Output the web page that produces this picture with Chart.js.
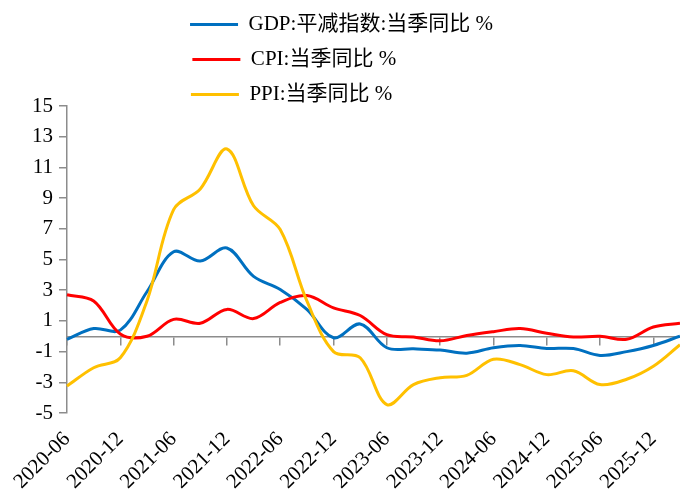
<!DOCTYPE html>
<html>
<head>
<meta charset="utf-8">
<script src="https://cdn.jsdelivr.net/npm/chart.js@4.4.1/dist/chart.umd.min.js"></script>
<style>
html,body{margin:0;padding:0;background:#ffffff;}
canvas{display:block;}
</style>
</head>
<body>
<canvas id="c" width="680" height="502"></canvas>
<script>
// ---- data (quarterly) ----
const labels = ['2020-06','2020-09','2020-12','2021-03','2021-06','2021-09','2021-12','2022-03',
  '2022-06','2022-09','2022-12','2023-03','2023-06','2023-09','2023-12','2024-03',
  '2024-06','2024-09','2024-12','2025-03','2025-06','2025-09','2025-12','2026-03'];
const gdpDeflator = [-0.2, 0.5, 0.4, 2.9, 5.5, 4.9, 5.75, 3.9, 3.05, 1.75, -0.1, 0.8,
  -0.75, -0.82, -0.9, -1.1, -0.75, -0.6, -0.8, -0.8, -1.25, -1.0, -0.6, 0.0];
const cpi = [2.7, 2.3, 0.15, 0.0, 1.1, 0.85, 1.75, 1.15, 2.2, 2.65, 1.85, 1.35,
  0.1, -0.05, -0.3, 0.05, 0.3, 0.5, 0.2, -0.05, 0.0, -0.2, 0.6, 0.85];
const ppi = [-3.25, -2.05, -1.4, 2.3, 8.25, 9.6, 12.2, 8.5, 6.95, 2.3, -1.0, -1.4,
  -4.45, -3.15, -2.7, -2.55, -1.5, -1.85, -2.5, -2.25, -3.15, -2.8, -1.95, -0.55];
const seriesNames = ['GDP:平减指数:当季同比 %', 'CPI:当季同比 %', 'PPI:当季同比 %'];
const yMin = -5, yMax = 15, yStep = 2;

// ---- style ----
const FONT = '"Liberation Serif", "Times New Roman", "Noto Sans CJK SC", serif';
const FS = 21;
const AXIS = '#8c8c8c';
const COLORS = ['#0070C0', '#FF0000', '#FFC000'];
const everyOther = a => { a.ticks = a.ticks.filter(t => t.value % 2 === 0); };

new Chart(document.getElementById('c'), {
  type: 'line',
  data: {
    labels: labels,
    datasets: [gdpDeflator, cpi, ppi].map((d, i) => ({
      label: seriesNames[i],
      data: d,
      borderColor: COLORS[i],
      backgroundColor: COLORS[i],
      borderWidth: 3,
      pointRadius: 0,
      pointHoverRadius: 0,
      tension: 0.35,
      fill: false,
      order: 3 - i,
      xAxisID: 'x',
      yAxisID: 'y'
    }))
  },
  options: {
    responsive: false,
    animation: false,
    devicePixelRatio: 1,
    layout: { padding: { left: 24, right: 0, top: 0, bottom: 0 } },
    plugins: {
      tooltip: { enabled: false },
      legend: {
        position: 'top',
        align: 'center',
        maxHeight: 106,
        labels: {
          boxWidth: 48,
          boxHeight: 3,
          padding: 14,
          color: '#000000',
          font: { family: FONT, size: FS },
          sort: (a, b) => a.datasetIndex - b.datasetIndex,
          generateLabels(chart) {
            const items = Chart.defaults.plugins.legend.labels.generateLabels(chart);
            const ctx = chart.ctx;
            ctx.save();
            ctx.font = FS + 'px ' + FONT;
            items.forEach(it => {
              while (ctx.measureText(it.text + ' ').width <= 266) it.text += ' ';
              it.fillStyle = it.strokeStyle;
              it.lineWidth = 0;
            });
            ctx.restore();
            return items;
          }
        }
      }
    },
    scales: {
      x: {
        type: 'category',
        position: { y: 0 },
        ticks: { display: false },
        grid: { display: true, drawOnChartArea: false, drawTicks: true, tickLength: 8, color: AXIS, lineWidth: 1.5 },
        border: { display: true, color: AXIS, width: 1.5 },
        afterBuildTicks: everyOther,
        afterFit: s => { s.height = 0; s.paddingLeft = 0; s.paddingRight = 0; }
      },
      x2: {
        type: 'category',
        labels: labels,
        position: 'bottom',
        grid: { display: false, drawTicks: false },
        border: { display: false },
        ticks: {
          autoSkip: false, minRotation: 45, maxRotation: 45, padding: 14,
          color: '#000000', font: { family: FONT, size: FS }
        },
        afterBuildTicks: everyOther,
        afterFit: s => { s.height = 89; s.paddingLeft = 0; s.paddingRight = 0; }
      },
      y: {
        type: 'linear',
        min: yMin, max: yMax,
        ticks: { stepSize: yStep, color: '#000000', padding: 6, font: { family: FONT, size: FS } },
        grid: { display: true, drawOnChartArea: false, drawTicks: true, tickLength: 8, color: AXIS, lineWidth: 1.5 },
        border: { display: true, color: AXIS, width: 1.5 },
        afterFit: s => { s.width = 43; }
      }
    }
  }
});
</script>
</body>
</html>
